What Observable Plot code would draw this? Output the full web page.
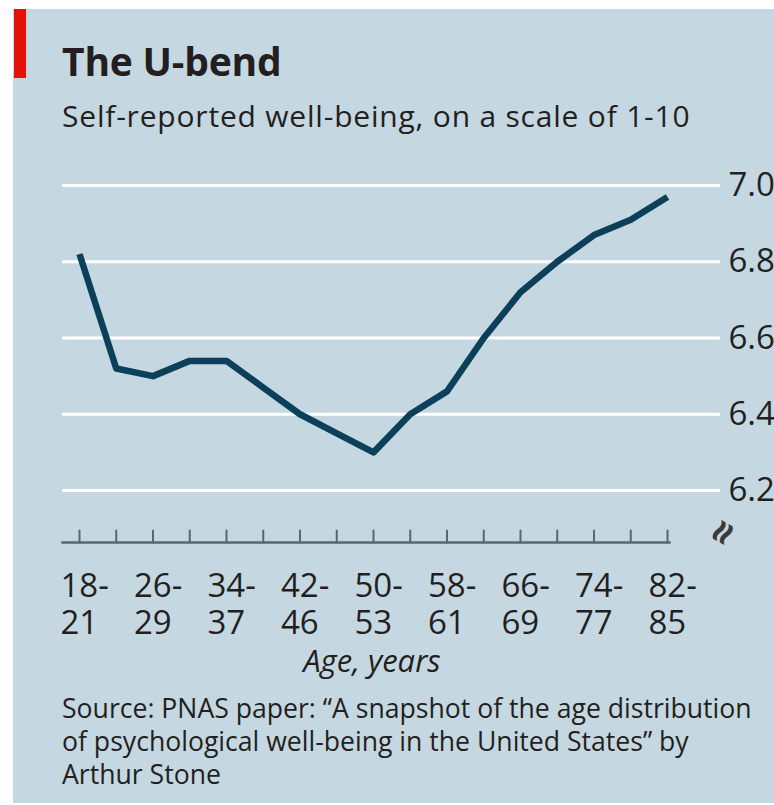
<!DOCTYPE html>
<html>
<head>
<meta charset="utf-8">
<script src="https://cdn.jsdelivr.net/npm/d3@7"></script>
<script src="https://cdn.jsdelivr.net/npm/@observablehq/plot@0.6"></script>
<style>
  html, body { margin: 0; padding: 0; background: #ffffff; }
  #wrap { position: relative; width: 774px; height: 805px; overflow: hidden; font-family: "Open Sans", sans-serif; color: #231f20; }
  #panel { position: absolute; left: 13px; top: 9px; width: 761px; height: 794px; background: #c5d8e2; }
  #redbar { position: absolute; left: 14px; top: 9px; width: 12px; height: 69px; background: #e3120b; }
  .t { position: absolute; white-space: nowrap; }
  #title { left: 62px; top: 41px; font-size: 39px; line-height: 1; font-weight: 700; letter-spacing: -0.2px; }
  #subtitle { left: 62px; top: 101px; font-size: 30px; line-height: 1; letter-spacing: 0.8px; }
  #xlabel { left: 272px; width: 200px; text-align: center; top: 645px; font-size: 31px; line-height: 1; font-style: italic; }
  #caption { left: 62px; top: 691px; font-size: 28px; line-height: 33px; transform-origin: 0 0; transform: scaleX(0.95); }
  #chart { position: absolute; left: 0; top: 140px; }
</style>
</head>
<body>
<div id="wrap">
  <div id="panel"></div>
  <div id="redbar"></div>
  <div class="t" id="title">The U-bend</div>
  <div class="t" id="subtitle">Self-reported well-being, on a scale of 1-10</div>
  <div id="chart"></div>
  <div class="t" id="xlabel">Age, years</div>
  <div class="t" id="caption">Source: PNAS paper: “A snapshot of the age distribution<br>of psychological well-being in the United States” by<br>Arthur Stone</div>
</div>
<script>
// Age groups (lower bound of each four-year band)
const ageStart = [18, 22, 26, 30, 34, 38, 42, 46, 50, 54, 58, 62, 66, 70, 74, 78, 82];
// Self-reported well-being (scale 1-10)
const wellbeing = [6.82, 6.52, 6.50, 6.54, 6.54, 6.47, 6.40, 6.35, 6.30, 6.40, 6.46, 6.60, 6.72, 6.80, 6.87, 6.91, 6.97];
// Labelled x ticks
const labelAges = [18, 26, 34, 42, 50, 58, 66, 74, 82];
const tickLabels = ["18-\n21", "26-\n29", "34-\n37", "42-\n46", "50-\n53", "58-\n61", "66-\n69", "74-\n77", "82-\n85"];
// y ticks
const yTicks = [6.2, 6.4, 6.6, 6.8, 7.0];

const data = ageStart.map((a, i) => ({age: a, value: wellbeing[i]}));
const labelOf = new Map(labelAges.map((a, i) => [a, tickLabels[i]]));

const tickShape = { draw(context, l) { context.moveTo(0, 0); context.lineTo(0, -l); } };

const chart = Plot.plot({
  width: 774,
  height: 560,
  marginLeft: 62,
  marginRight: 54,
  marginTop: 20,
  marginBottom: 158,
  style: { background: "transparent", fontFamily: "Open Sans, sans-serif", color: "#231f20" },
  x: { domain: [18, 82], range: [79, 667] },
  y: { domain: [6.2, 7.0], range: [350, 45] },
  marks: [
    Plot.gridY(yTicks, { stroke: "#ffffff", strokeOpacity: 1, strokeWidth: 3 }),
    Plot.axisY(yTicks, { anchor: "right", tickSize: 0, tickPadding: 8, tickFormat: d3.format(".1f"), fontSize: 33, fill: "#231f20", label: null }),
    Plot.frame({ anchor: "bottom", insetRight: 51, stroke: "#5b666e", strokeWidth: 2.5 }),
    Plot.vector(ageStart, { x: d => d, frameAnchor: "bottom", length: 12, rotate: 0, anchor: "start", shape: tickShape, stroke: "#5b666e", strokeWidth: 2 }),
    Plot.axisX(labelAges, { anchor: "bottom", tickSize: 0, tickPadding: 28, tickFormat: d => labelOf.get(d), fontSize: 33, textAnchor: "start", dx: -19, lineHeight: 1.12, fill: "#231f20", label: null }),
    Plot.text(["≈"], { frameAnchor: "bottom-right", dx: 21, dy: -13, rotate: -60, fontSize: 42, fontWeight: "bold", fill: "#3a3a3a" }),
    Plot.line(data, { x: "age", y: "value", stroke: "#0b3f5a", strokeWidth: 6.5, strokeLinejoin: "round", strokeLinecap: "butt" })
  ]
});
document.getElementById("chart").appendChild(chart);
</script>
</body>
</html>
